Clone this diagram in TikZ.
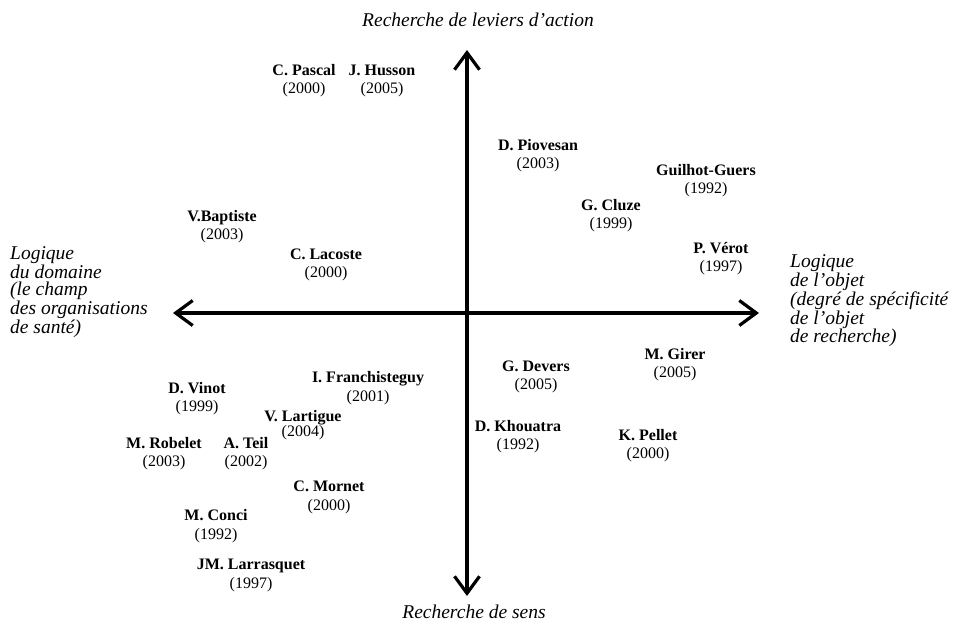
\documentclass[tikz,border=0pt]{standalone}
\usepackage{fontspec}
\setmainfont{Liberation Serif}
\usetikzlibrary{positioning, arrows.meta}
\tikzset{
    auteur/.style={inner sep=0pt, text height=11pt, text depth=3.5pt, font=\fontsize{16}{18}\selectfont\bfseries},
    annee/.style={inner sep=0pt, text height=11pt, text depth=3.5pt, font=\fontsize{16}{18}\selectfont},
    pole/.style={inner sep=0pt, align=left, font=\fontsize{19.5}{17.6}\selectfont\itshape},
    axe/.style={line width=3.2pt, {Straight Barb[length=17pt, width=25pt]}-{Straight Barb[length=17pt, width=25pt]}},
}
\begin{document}
\begin{tikzpicture}[x=1pt, y=-1pt]
        \useasboundingbox (0,0) rectangle (962,629);

        \coordinate (haut) at (467,50);
        \coordinate (bas) at (467,596);
        \coordinate (gauche) at (173,313);
        \coordinate (droite) at (759,313);

        \node [pole] (txtHaut) at (478,20) {Recherche de leviers d’action};
        \node [pole] (txtBas) at (474,612) {Recherche de sens};
        \node [pole, anchor=west] (txtGauche) at (10,292) {Logique\\du domaine\\(le champ\\des organisations\\de santé)};
        \node [pole, anchor=west] (txtDroite) at (790,301) {Logique\\de l’objet\\(degré de spécificité\\de l’objet\\de recherche)};

        \node [auteur] (pascal) at (304,72) {C. Pascal};
        \node [auteur] (husson) at (382,72) {J. Husson};
        \node [auteur] (piovesan) at (538,147) {D. Piovesan};
        \node [auteur] (guilhot) at (706,172) {Guilhot-Guers};
        \node [auteur] (cluze) at (611,207) {G. Cluze};
        \node [auteur] (baptiste) at (222,218) {V.Baptiste};
        \node [auteur] (lacoste) at (326,256) {C. Lacoste};
        \node [auteur] (verot) at (721,250) {P. Vérot};
        \node [auteur] (girer) at (675,356) {M. Girer};
        \node [auteur] (devers) at (536,368) {G. Devers};
        \node [auteur] (franchis) at (368,379) {I. Franchisteguy};
        \node [auteur] (vinot) at (197,390) {D. Vinot};
        \node [auteur] (lartigue) at (303,418) {V. Lartigue};
        \node [auteur] (khouatra) at (518,428) {D. Khouatra};
        \node [auteur] (robelet) at (164,445) {M. Robelet};
        \node [auteur] (teil) at (246,445) {A. Teil};
        \node [auteur] (pellet) at (648,437) {K. Pellet};
        \node [auteur] (mornet) at (329,488) {C. Mornet};
        \node [auteur] (conci) at (216,517) {M. Conci};
        \node [auteur] (larrasquet) at (251,566) {JM. Larrasquet};

        \node [annee, below=2.5pt of pascal] (pascalA) {(2000)};
        \node [annee, below=2.5pt of husson] (hussonA) {(2005)};
        \node [annee, below=2.5pt of piovesan] (piovesanA) {(2003)};
        \node [annee, below=2.5pt of guilhot] (guilhotA) {(1992)};
        \node [annee, below=2.5pt of cluze] (cluzeA) {(1999)};
        \node [annee, below=2.5pt of baptiste] (baptisteA) {(2003)};
        \node [annee, below=2.5pt of lacoste] (lacosteA) {(2000)};
        \node [annee, below=2.5pt of verot] (verotA) {(1997)};
        \node [annee, below=2.5pt of girer] (girerA) {(2005)};
        \node [annee, below=2.5pt of devers] (deversA) {(2005)};
        \node [annee, below=4pt of franchis] (franchisA) {(2001)};
        \node [annee, below=2.5pt of vinot] (vinotA) {(1999)};
        \node [annee, below=0.3pt of lartigue] (lartigueA) {(2004)};
        \node [annee, below=2.5pt of khouatra] (khouatraA) {(1992)};
        \node [annee, below=2.5pt of robelet] (robeletA) {(2003)};
        \node [annee, below=2.5pt of teil] (teilA) {(2002)};
        \node [annee, below=2.5pt of pellet] (pelletA) {(2000)};
        \node [annee, below=3.5pt of mornet] (mornetA) {(2000)};
        \node [annee, below=3.5pt of conci] (conciA) {(1992)};
        \node [annee, below=4pt of larrasquet] (larrasquetA) {(1997)};

        \draw [axe] (bas) -- (haut);
        \draw [axe] (gauche) -- (droite);
    \end{tikzpicture}
\end{document}
